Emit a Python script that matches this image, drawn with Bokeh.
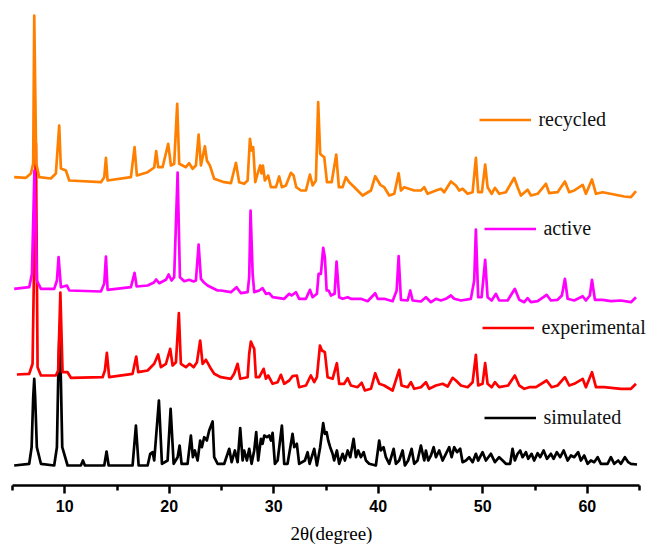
from bokeh.plotting import figure
from bokeh.models import Legend, LegendItem, FixedTicker, Range1d
from bokeh.embed import file_html
from bokeh.resources import INLINE

# ---- data: (2theta in degree, intensity a.u.) ----
simulated = [(5.16,10),(6.60,11.7),(6.83,28.3),(6.98,78),(7.08,96.7),(7.17,78),(7.33,28.3),(7.72,11.7),(8.99,10),(9.25,28.3),
    (9.37,95),(9.51,148.3),(9.63,95),(9.76,28.3),(10.27,10),(11.54,10),(11.74,15),(11.93,10),(13.78,10),(14.00,24),(14.20,10),
    (16.49,10),(16.81,50),(17.07,10),(17.93,10),(18.18,21.7),(18.41,23.3),(18.56,15),(19.01,75),(19.30,11.7),
    (19.84,15),(20.13,66.7),(20.42,11.7),(20.80,18.3),(20.99,30),(21.18,11.7),(21.75,11.7),(22.07,40),
    (22.26,18.3),(22.45,25),(22.71,15),(22.96,35),(23.12,28.3),(23.34,38.3),(23.60,35),(23.82,45),(24.15,54),
    (24.30,18.3),(24.63,11.7),(25.26,11.7),(25.74,26.7),(25.97,13.3),(26.28,25),(26.54,13.3),(26.79,47.3),
    (27.02,15),(27.17,25),(27.43,15),(27.65,26.7),(27.88,11.7),(28.13,25),(28.32,43.3),(28.51,15),(28.77,36.7),
    (28.93,31.7),(29.09,40),(29.34,38.3),(29.56,40),(29.73,35),(29.89,42.7),(30.11,11.7),(30.37,15),(30.78,50),
    (31.00,11.7),(31.32,11.7),(31.80,41.7),(31.96,28.3),(32.21,31.7),(32.43,11.7),(32.98,15),(33.24,23.3),
    (33.43,11.7),(33.87,26.7),(34.13,10),(34.44,28.3),(34.73,52.3),(34.89,41.7),(35.06,43.3),(35.21,35),
    (35.40,28.3),(35.63,21.7),(35.78,15),(36.04,25),(36.26,11.7),(36.59,21.7),(36.81,15),(37.07,25),(37.32,18.3),
    (37.64,36.7),(37.86,18.3),(38.08,25),(38.34,18.3),(38.60,23.3),(38.82,15),(39.13,11.7),(39.77,10),(40.09,35),
    (40.25,25),(40.51,28.3),(40.73,18.3),(41.05,11.7),(41.47,26.7),(41.69,11.7),(42.00,15),(42.33,25),(42.55,10),
    (42.86,15),(43.19,26.7),(43.44,11.7),(43.76,15),(44.08,30),(44.40,15),(44.56,25),(44.78,15),(45.04,20),
    (45.30,28.3),(45.52,18.3),(45.83,25),(46.16,15),(46.47,21.7),(46.79,28.3),(47.02,18.3),(47.27,28.3),
    (47.53,23.3),(47.84,26.7),(48.07,13.3),(48.39,15),(48.70,18.3),(49.03,13.3),(49.34,21.7),(49.56,15),
    (49.98,23.3),(50.30,15),(50.78,21.7),(51.16,13.3),(51.57,18.3),(51.90,15),(52.21,11.7),(52.62,11.7),
    (52.85,26.7),(53.07,15),(53.33,21.7),(53.58,25),(53.81,18.3),(54.13,23.3),(54.35,16.7),(54.67,21.7),
    (54.92,15),(55.25,22.3),(55.50,18.3),(55.82,25),(56.14,16.7),(56.52,21.7),(56.78,16.7),(57.09,23.3),
    (57.41,18.3),(57.74,25),(58.12,15),(58.44,20),(58.75,18.3),(59.13,23.3),(59.39,15),(59.71,20),(60.03,11.7),
    (60.35,15),(60.66,13.3),(60.99,18.3),(61.30,11.7),(61.94,11.7),(62.26,18.3),(62.58,11.7),(62.96,15),
    (63.22,11.7),(63.60,18.3),(63.92,13.3),(64.18,11.7),(64.76,11)]

experimental = [(5.42,16),(6.60,16.7),(6.92,26.7),(7.24,247),(7.40,23.3),(7.72,15),(9.15,15),(9.37,20),
    (9.58,98),(9.79,18.3),(10.27,18.3),(10.59,12.7),(13.62,13.3),(13.84,20),(14.03,37.7),(14.25,13.3),
    (16.49,16.7),(16.84,34),(17.03,18.3),(17.93,20),(18.56,26.7),(18.94,36),(19.20,23.3),(19.68,26.7),
    (20.09,41.7),(20.32,25),(20.64,28.3),(20.92,77.3),(21.11,26.7),(21.59,23.3),(21.95,26.7),(22.33,23.3),
    (22.65,28.3),(22.96,50),(23.19,26.7),(23.51,30.7),(23.73,26.7),(23.99,21.7),(24.30,16.7),(24.94,13.3),
    (25.90,11.7),(26.21,16.7),(26.54,26.7),(26.79,11.7),(27.50,13.3),(27.65,36.7),(27.81,49),(27.98,45),
    (28.13,41.7),(28.29,13.3),(28.61,13.3),(29.03,21.7),(29.25,11.7),(29.47,15),(29.89,6.7),(30.37,8.3),
    (30.68,15.7),(31.00,6.7),(31.48,10),(31.80,14.3),(32.21,15),(32.43,3.3),(33.08,5),(33.55,15),(33.87,8.3),
    (34.13,13.3),(34.42,45),(34.61,40),(34.89,38.3),(35.15,13.3),(35.63,11.7),(36.04,27.3),(36.26,6.7),
    (36.74,6.7),(37.07,12.3),(37.38,5),(38.02,3.3),(38.41,7.7),(38.72,0),(39.30,1.7),(39.71,17.3),(40.09,6.7),
    (40.57,5),(41.37,0),(42.00,20.7),(42.23,5),(42.81,3.3),(43.12,8.3),(43.44,1.7),(44.08,3.3),(44.56,8.3),
    (44.87,1.7),(45.52,5),(46.16,6.7),(46.64,4),(47.11,12.7),(47.43,10),(47.91,5),(48.55,3.3),(49.03,8.3),
    (49.34,35.7),(49.56,5),(49.98,6.7),(50.23,27.3),(50.46,6.7),(50.85,3.3),(51.16,8.3),(51.57,3.3),(52.43,5),
    (53.07,15),(53.49,5),(53.97,1.7),(54.45,3.3),(55.09,3.3),(56.11,10),(56.59,3.3),(57.16,5),(57.86,13.3),
    (58.27,5),(58.75,6.7),(59.56,11.7),(59.87,3.3),(60.45,18.3),(60.83,3.3),(61.62,3.3),(63.22,1.7),
    (64.18,1.7),(64.66,6.7)]

active = [(5.16,16.7),(6.60,18.3),(6.86,31.7),(7.10,135),(7.33,25),(7.72,16.7),(8.99,16.7),(9.25,25),
    (9.41,48.3),(9.63,18.3),(10.21,20),(10.43,15),(13.46,14),(13.78,22),(13.94,49),(14.10,15.7),(16.33,18.3),
    (16.68,32.7),(16.88,19),(17.93,20),(18.53,23),(18.75,26),(19.04,22.3),(19.68,25.7),(19.94,31),(20.22,25),
    (20.47,28.3),(20.80,133),(21.02,28.3),(21.43,24.3),(21.91,25.7),(22.33,24),(22.55,25),(22.81,61),
    (23.03,26.7),(23.29,23.3),(23.67,20),(23.99,18.3),(24.63,15),(24.94,15),(25.90,13.3),(26.44,18.3),
    (26.86,12.3),(27.50,13.3),(27.65,28.3),(27.78,95),(27.98,31.7),(28.13,13.3),(28.61,15),(28.93,17.3),
    (29.25,11.7),(29.56,12.3),(29.89,8.3),(31.00,6.7),(31.48,11.7),(31.71,10),(32.12,13.3),(32.43,6.7),
    (33.08,6.7),(33.46,15.7),(33.72,8.3),(34.13,11.7),(34.29,31.7),(34.51,31.7),(34.73,57.7),(34.89,48.3),
    (35.06,15),(35.25,15),(35.47,10),(35.82,11.7),(36.01,44),(36.26,8.3),(36.59,6.7),(37.07,8.3),(37.38,6.7),
    (38.34,6.7),(38.98,4.3),(39.71,12.3),(39.94,6.7),(40.57,6.7),(41.37,4.3),(41.76,15),(41.95,49.3),(42.17,5.7),
    (42.81,5),(43.06,15),(43.29,5),(44.08,4),(44.56,8.3),(45.04,3.3),(45.52,6.7),(46.00,5),(46.47,6.7),
    (46.95,10),(47.27,6.7),(47.91,5),(48.86,6.7),(49.18,25),(49.34,76),(49.56,8.3),(49.89,8.3),(50.23,45.7),
    (50.46,8.3),(50.85,5),(51.26,11.7),(51.57,5),(52.38,5),(53.07,16.7),(53.49,5.7),(53.97,3.3),(54.29,7.3),
    (54.61,3.3),(55.25,4.3),(56.11,10.7),(56.52,5),(57.16,5.7),(57.57,10),(57.86,26.7),(58.12,6.7),(58.75,5),
    (59.56,9.3),(59.87,5),(60.25,10),(60.45,25.7),(60.73,5.7),(61.47,5.7),(62.26,4.3),(63.22,5),(64.18,3.3),
    (64.66,8.3)]

recycled = [(5.16,23.3),(6.28,22.7),(6.76,27),(6.98,37),(7.08,185),(7.27,37),(7.56,23.3),(8.67,22),(9.15,27),
    (9.47,75),(9.63,32),(10.11,30),(10.43,20),(13.46,18.3),(13.78,23.3),(13.94,42.7),(14.10,20),(16.33,23.3),
    (16.68,53.3),(16.90,25),(17.93,28.3),(18.56,33),(18.75,49.3),(18.94,33.3),(19.36,33.3),(19.90,56.7),
    (20.16,35),(20.47,36.7),(20.76,96.7),(20.95,36.7),(21.59,33.3),(21.91,37.3),(22.23,31.7),(22.55,35),
    (22.81,66),(23.03,35),(23.41,54.3),(23.60,40),(23.89,35),(24.30,21.7),(25.26,18.3),(25.90,17.3),(26.38,37.7),
    (26.69,18.3),(27.17,16.7),(27.50,20),(27.72,61.7),(27.88,50),(28.03,53.3),(28.23,18.3),(28.45,26.7),
    (28.70,35),(28.83,27),(28.96,35),(29.15,20),(29.47,25),(29.73,13.3),(30.21,13.3),(30.52,24),(30.78,13.3),
    (31.16,15),(31.64,27.7),(31.90,25),(32.15,13.3),(32.60,10),(33.08,10),(33.46,26),(33.72,15),(34.03,20),
    (34.25,98.3),(34.44,46.7),(34.61,45),(34.83,43.3),(35.09,18.3),(35.54,18.3),(35.98,46),(36.23,13.3),
    (36.59,13.3),(36.90,23.3),(37.22,18.3),(37.55,15),(38.02,10),(38.50,5),(39.30,10),(39.71,24.3),(40.19,15.7),
    (40.57,13.3),(41.05,5),(41.53,6.7),(41.95,27.3),(42.17,10),(42.48,13.3),(42.93,11.7),(43.44,10),(44.08,10),
    (44.40,13.3),(44.72,6.7),(45.52,10),(46.00,11.7),(46.31,8.3),(46.95,19),(47.43,15),(47.75,10),(48.07,11.7),
    (48.55,6.7),(49.03,8.3),(49.34,42.7),(49.56,8.3),(49.92,8.3),(50.23,36),(50.46,13.3),(50.85,6.7),
    (51.16,12.7),(51.57,6.7),(52.21,8.3),(53.01,22.7),(53.33,13.3),(53.65,5),(54.29,10.7),(54.61,5),(55.25,6.7),
    (56.04,16.7),(56.36,7.3),(57.16,8.3),(57.86,19),(58.27,8.3),(58.75,10),(59.56,15.7),(59.87,6.7),(60.45,21),
    (60.83,6.7),(61.47,8.3),(62.58,6),(63.54,4),(64.18,3.3),(64.66,9.3)]

names = ["simulated", "experimental", "active", "recycled"]
offsets = [10, 95, 180, 285]
colors = ["#000000", "#FF0000", "#FF00FF", "#FF8000"]
x_ticks = [10, 20, 30, 40, 50, 60]
x_minor = [5, 15, 25, 35, 45, 55, 65]

# frame runs a little past 65 so the legend labels are not clipped; the axis line stops at 65
p = figure(frame_width=638, frame_height=475, x_range=Range1d(5, 66.05), y_range=Range1d(0, 475),
           output_backend="svg", toolbar_location=None, y_axis_location=None,
           min_border_left=12, min_border_right=0, min_border_top=10, min_border_bottom=63)
p.outline_line_color = None
p.grid.visible = False
p.background_fill_color = "white"

renderers = []
for data, off, col in zip([simulated, experimental, active, recycled], offsets, colors):
    xs = [d[0] for d in data]
    ys = [d[1] + off for d in data]
    r = p.line(xs, ys, line_color=col, line_width=2.7, line_join="round")
    renderers.append(r)

ax = p.xaxis[0]
ax.bounds = (5, 65)
ax.ticker = FixedTicker(ticks=x_ticks, minor_ticks=x_minor)
ax.axis_line_width = 2.5
ax.major_tick_line_width = 2.5
ax.minor_tick_line_width = 2.5
ax.major_tick_in = 0
ax.major_tick_out = 8
ax.minor_tick_in = 0
ax.minor_tick_out = 5
ax.major_label_text_font = "Liberation Sans"
ax.major_label_text_font_style = "bold"
ax.major_label_text_font_size = "16px"
ax.major_label_text_color = "black"
ax.major_label_standoff = 6
ax.axis_label = "2θ(degree)"
ax.axis_label_text_font = "Liberation Serif"
ax.axis_label_text_font_style = "normal"
ax.axis_label_text_font_size = "19px"
ax.axis_label_text_color = "black"
ax.axis_label_standoff = 8

# legend entries placed next to each trace
legend_locs = [(472.4, 56.5), (470.4, 146.5), (472.4, 245.5), (467.4, 354.5)]
for name, r, loc in zip(names, renderers, legend_locs):
    lg = Legend(items=[LegendItem(label=name, renderers=[r])], location=loc,
                border_line_color=None, background_fill_alpha=0, padding=0, margin=0,
                spacing=0, glyph_width=52, glyph_height=21, label_height=21,
                label_standoff=7, label_text_font="Liberation Serif",
                label_text_font_size="20px", label_text_color="#111111")
    p.add_layout(lg, "center")

open("out.html", "w").write(file_html(p, INLINE))
